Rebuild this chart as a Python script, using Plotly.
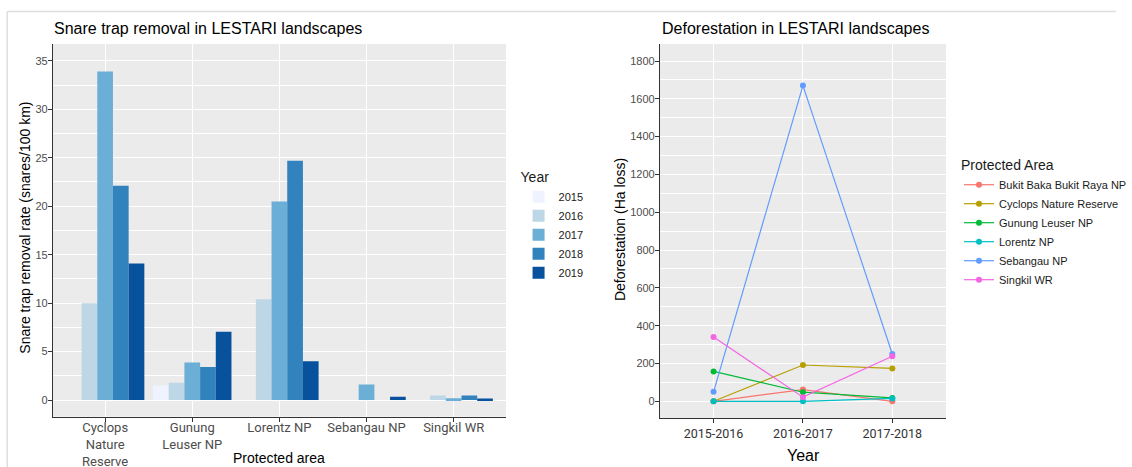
import plotly.graph_objects as go

# ---------------- data ----------------
bar_areas = ["Cyclops Nature Reserve", "Gunung Leuser NP", "Lorentz NP", "Sebangau NP", "Singkil WR"]
bar_tick_labels = ["Cyclops<br>Nature<br>Reserve", "Gunung<br>Leuser NP", "Lorentz NP", "Sebangau NP", "Singkil WR"]
years = ["2015", "2016", "2017", "2018", "2019"]
snare_2015 = [0, 1.5, 0, 0, 0]
snare_2016 = [10.0, 1.78, 10.4, 0, 0.48]
snare_2017 = [33.9, 3.88, 20.5, 1.6, 0.18]
snare_2018 = [22.1, 3.4, 24.7, 0, 0.48]
snare_2019 = [14.1, 7.05, 4.0, 0.35, 0.15]
snare_by_year = [snare_2015, snare_2016, snare_2017, snare_2018, snare_2019]
year_colors = ["#EFF3FF", "#BDD7E7", "#6BAED6", "#3182BD", "#08519C"]

periods = ["2015-2016", "2016-2017", "2017-2018"]
defor_names = ["Bukit Baka Bukit Raya NP", "Cyclops Nature Reserve", "Gunung Leuser NP",
               "Lorentz NP", "Sebangau NP", "Singkil WR"]
defor_bukit = [0, 62, 0]
defor_cyclops = [0, 192, 174]
defor_gunung = [158, 48, 18]
defor_lorentz = [0, 0, 15]
defor_sebangau = [50, 1670, 250]
defor_singkil = [340, 22, 238]
defor_values = [defor_bukit, defor_cyclops, defor_gunung, defor_lorentz, defor_sebangau, defor_singkil]
area_colors = ["#F8766D", "#B79F00", "#00BA38", "#00BFC4", "#619CFF", "#F564E3"]

# ---------------- layout constants ----------------
W, H = 1132, 467
def px(x):
    return x / W
def py(y):
    return (H - y) / H

TXT = "Liberation Sans, Arial, sans-serif"
TICKF = "Roboto, Liberation Sans, sans-serif"

fig = go.Figure()

for yr, vals, col in zip(years, snare_by_year, year_colors):
    fig.add_trace(go.Bar(
        x=bar_areas, y=vals, name=yr, marker=dict(color=col, line=dict(width=0)),
        xaxis="x", yaxis="y", legend="legend",
    ))

for name, vals, col in zip(defor_names, defor_values, area_colors):
    fig.add_trace(go.Scatter(
        x=periods, y=vals, name=name, mode="lines+markers",
        line=dict(color=col, width=1.2), marker=dict(color=col, size=6),
        xaxis="x2", yaxis="y2", legend="legend2",
    ))

grid = dict(showgrid=True, gridcolor="white", gridwidth=1.1, zeroline=False,
            showline=True, linecolor="#333333", linewidth=1,
            ticks="outside", ticklen=4, tickcolor="#333333", tickwidth=1)

fig.update_layout(
    width=W, height=H,
    margin=dict(l=0, r=0, t=0, b=0),
    paper_bgcolor="white", plot_bgcolor="#EBEBEB",
    barmode="group", bargap=0.1, bargroupgap=0,
    showlegend=True,
    xaxis=dict(domain=[px(53.6), px(513.2)], anchor="y", type="category",
               range=[-0.6, 4.6], tickvals=bar_areas, ticktext=bar_tick_labels,
               tickfont=dict(family=TICKF, size=13, color="#4D4D4D"),
               ticklabelstandoff=-5,
               automargin=False, **grid),
    yaxis=dict(domain=[py(416.7), py(44)], anchor="x", range=[-1.72, 36.74],
               tickvals=[0, 5, 10, 15, 20, 25, 30, 35],
               tickfont=dict(family=TXT, size=11, color="#4D4D4D"),
               ticklabelstandoff=-2,
               minor=dict(dtick=2.5, showgrid=True, gridcolor="white", gridwidth=0.5, ticks=""),
               automargin=False, **grid),
    xaxis2=dict(domain=[px(669.4), px(959.5)], anchor="y2", type="category",
                range=[-0.6, 2.6],
                tickfont=dict(family=TICKF, size=12.5, color="#333333"),
                automargin=False, **grid),
    yaxis2=dict(domain=[py(418.3), py(44)], anchor="x2", range=[-90, 1890],
                tickvals=[0, 200, 400, 600, 800, 1000, 1200, 1400, 1600, 1800],
                tickfont=dict(family=TXT, size=11, color="#4D4D4D"),
                ticklabelstandoff=-2,
                minor=dict(dtick=100, showgrid=True, gridcolor="white", gridwidth=0.5, ticks=""),
                automargin=False, **grid),
    legend=dict(title=dict(text="Year", font=dict(family=TXT, size=14, color="#1A1A1A")),
                x=px(526), y=py(164), xanchor="left", yanchor="top",
                font=dict(family=TXT, size=11, color="#1A1A1A"),
                bgcolor="white", itemwidth=30, traceorder="normal"),
    legend2=dict(title=dict(text="Protected Area", font=dict(family=TXT, size=14, color="#1A1A1A")),
                 x=px(973), y=py(152), xanchor="left", yanchor="top",
                 font=dict(family=TXT, size=11, color="#1A1A1A"),
                 bgcolor="white", itemwidth=30, traceorder="normal"),
)

annots = [
    dict(text="Snare trap removal in LESTARI landscapes", x=px(53), y=py(28),
         xanchor="left", yanchor="middle", font=dict(family=TXT, size=16, color="black")),
    dict(text="Deforestation in LESTARI landscapes", x=px(669), y=py(28),
         xanchor="left", yanchor="middle", font=dict(family=TXT, size=16, color="black")),
    dict(text="Snare trap removal rate (snares/100 km)", x=px(25), y=py(228), textangle=-90,
         xanchor="center", yanchor="middle", font=dict(family=TXT, size=14, color="black")),
    dict(text="Deforestation (Ha loss)", x=px(629), y=py(230), textangle=-90,
         xanchor="center", yanchor="middle", font=dict(family=TXT, size=14, color="black")),
    dict(text="Protected area", x=px(283), y=py(458),
         xanchor="center", yanchor="middle", font=dict(family=TXT, size=14, color="black")),
    dict(text="Year", x=px(815), y=py(455),
         xanchor="center", yanchor="middle", font=dict(family=TXT, size=16, color="black")),
]
for a in annots:
    a.update(xref="paper", yref="paper", showarrow=False)
fig.update_layout(annotations=annots)

fig.add_shape(type="line", xref="paper", yref="paper", x0=px(7.3), x1=1, y0=py(11.5), y1=py(11.5),
              line=dict(color="#DEDEDE", width=1.5))
fig.add_shape(type="line", xref="paper", yref="paper", x0=px(7.3), x1=px(7.3), y0=0, y1=py(11.5),
              line=dict(color="#DEDEDE", width=1.5))

fig.write_html("out.html", config={"displayModeBar": False},
               post_script="document.body.style.margin='0';document.body.style.overflow='hidden';")
